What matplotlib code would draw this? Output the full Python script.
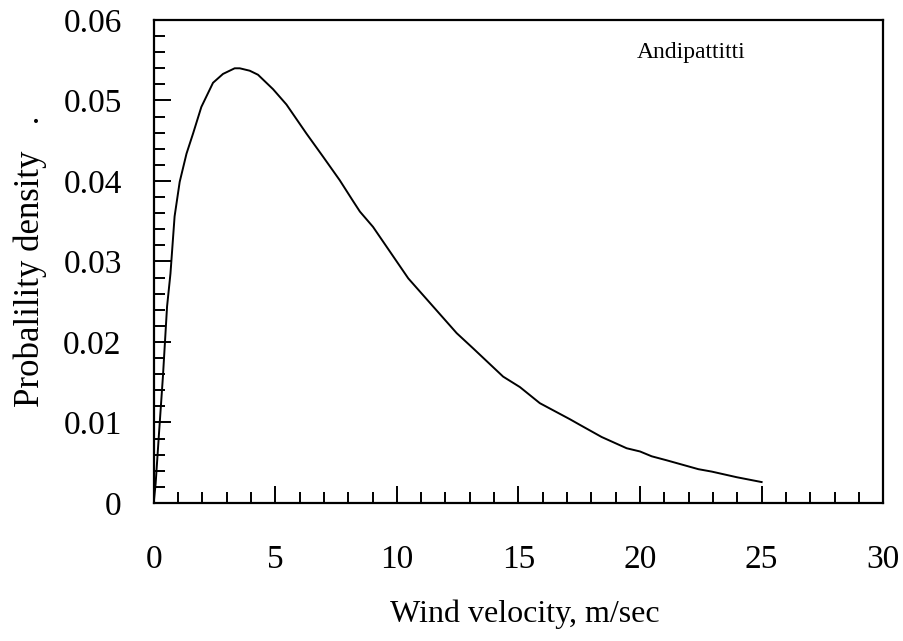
import numpy as np
import matplotlib
matplotlib.use("Agg")
import matplotlib.pyplot as plt
from matplotlib.ticker import MultipleLocator, FuncFormatter

# wind velocity (m/s) and probability density
velocity = [0.0, 0.08, 0.22, 0.38, 0.55, 0.69, 0.86, 1.07, 1.35, 1.62, 1.96,
            2.44, 2.85, 3.33, 3.54, 3.95, 4.29, 4.91, 5.46, 6.28, 6.97,
            7.65, 8.20, 8.48, 9.02, 10.47, 12.46, 13.14, 14.37, 15.06,
            15.88, 17.12, 17.53, 18.42, 19.45, 20.0, 20.48, 21.10, 22.40,
            22.95, 23.98, 25.0]
density = [0.0, 0.0024, 0.0087, 0.0157, 0.0244, 0.0285, 0.0356, 0.0399,
           0.0434, 0.0459, 0.0492, 0.0522, 0.0533, 0.0540, 0.0540, 0.0537,
           0.0532, 0.0514, 0.0495, 0.0459, 0.0430, 0.0401, 0.0375, 0.0362,
           0.0343, 0.0279, 0.0211, 0.0192, 0.0157, 0.0144, 0.0124, 0.0104,
           0.0097, 0.0082, 0.0068, 0.0064, 0.0058, 0.0053, 0.0042, 0.0039,
           0.0032, 0.0026]
site = "Andipattitti"

plt.rcParams["font.family"] = ["Liberation Serif", "DejaVu Serif"]

fig = plt.figure(figsize=(9.04, 6.41), dpi=100)
ax = fig.add_axes([0.170, 0.2153, 0.807, 0.7535])

ax.plot(velocity, density, color="black", linewidth=1.4)

ax.set_xlim(0, 30)
ax.set_ylim(0, 0.06)
ax.xaxis.set_major_locator(MultipleLocator(5))
ax.xaxis.set_minor_locator(MultipleLocator(1))
ax.yaxis.set_major_locator(MultipleLocator(0.01))
ax.yaxis.set_minor_locator(MultipleLocator(0.002))
ax.yaxis.set_major_formatter(FuncFormatter(lambda v, p: "0" if abs(v) < 1e-9 else f"{v:.2f}"))

ax.tick_params(which="both", direction="in", top=False, right=False, width=1.4)
ax.tick_params(which="major", length=12, labelsize=24)
ax.tick_params(which="minor", length=8)
ax.tick_params(axis="x", which="major", pad=30)
ax.tick_params(axis="y", which="major", pad=23)
for s in ax.spines.values():
    s.set_linewidth(1.6)

ax.set_xlabel("Wind velocity, m/sec", fontsize=23)
ax.xaxis.set_label_coords(0.509, -0.2)
ax.set_ylabel("Probalility density   .", fontsize=25)
ax.yaxis.set_label_coords(-0.146, 0.5)

ax.text(22.1, 0.0553, site, fontsize=17, ha="center", va="baseline")

fig.savefig("out.png", dpi=100)
